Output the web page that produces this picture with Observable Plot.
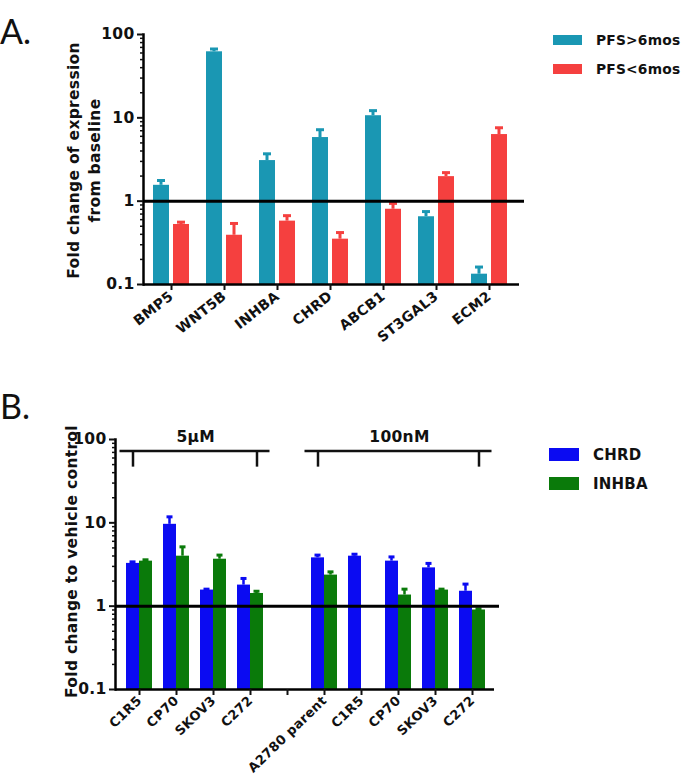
<!DOCTYPE html>
<html>
<head>
<meta charset="utf-8">
<script src="https://cdn.jsdelivr.net/npm/d3@7"></script>
<script src="https://cdn.jsdelivr.net/npm/@observablehq/plot@0.6"></script>
<style>
  body { margin: 0; background: #fff; }
  #wrap { position: relative; width: 685px; height: 775px; overflow: hidden; font-family: "DejaVu Sans", "Liberation Sans", Arial, sans-serif; color: #111; }
  .panel { position: absolute; left: 0; }
  .plabel { position: absolute; font-family: Lato, "Open Sans", sans-serif; font-size: 34px; line-height: 34px; color: #111; }
  .lrow { position: absolute; display: flex; align-items: center; white-space: nowrap; font-weight: bold; letter-spacing: 0.2px; }
  .sw { display: inline-block; }
</style>
</head>
<body>
<div id="wrap"></div>
<script>
// ---------- Panel A data ----------
const genesA = ["BMP5", "WNT5B", "INHBA", "CHRD", "ABCB1", "ST3GAL3", "ECM2"];
const pfsHigh = [1.55, 62, 3.07, 5.8, 10.6, 0.65, 0.133];      // PFS>6mos mean
const pfsHighErr = [1.77, 67, 3.7, 7.2, 12.2, 0.75, 0.162];    // PFS>6mos upper error
const pfsLow = [0.525, 0.39, 0.576, 0.35, 0.8, 1.97, 6.3];     // PFS<6mos mean
const pfsLowErr = [0.56, 0.54, 0.67, 0.42, 0.94, 2.2, 7.6];    // PFS<6mos upper error
const seriesA = ["PFS>6mos", "PFS<6mos"];

// ---------- Panel B data ----------
const cellB = ["C1R5", "CP70", "SKOV3", "C272", "", "A2780 parent", "C1R5", "CP70", "SKOV3", "C272"];
const chrdB = [3.26, 9.6, 1.56, 1.79, null, 3.8, 3.98, 3.47, 2.88, 1.51];
const chrdErrB = [3.4, 11.8, 1.6, 2.15, null, 4.1, 4.2, 3.9, 3.26, 1.84];
const inhbaB = [3.47, 3.98, 3.66, 1.42, null, 2.36, null, 1.36, 1.56, 0.9];
const inhbaErrB = [3.6, 5.15, 4.1, 1.51, null, 2.58, null, 1.6, 1.6, 0.93];
const seriesB = ["CHRD", "INHBA"];
const bracketLabels = ["5µM", "100nM"];
const bracketFrom = [0, 5];
const bracketTo = [3, 9];

// ---------- shared ----------
const yMajor = [0.1, 1, 10, 100];
const yMajorLabels = ["0.1", "1", "10", "100"];
const yMinor = [0.2, 0.3, 0.4, 0.5, 0.6, 0.7, 0.8, 0.9, 2, 3, 4, 5, 6, 7, 8, 9, 20, 30, 40, 50, 60, 70, 80, 90];

const TEAL = "#1a97b3", RED = "#f5403f", BLUE = "#0b0bf2", GREEN = "#0a7a0a";
const FONT = "'DejaVu Sans', 'Liberation Sans', Arial, sans-serif";

const rowsA = genesA.map((g, i) => ({gene: g, high: pfsHigh[i], highErr: pfsHighErr[i], low: pfsLow[i], lowErr: pfsLowErr[i]}));
const idxB = cellB.map((_, i) => i);
const rowsB = idxB.map(i => ({k: i, chrd: chrdB[i], chrdErr: chrdErrB[i], inhba: inhbaB[i], inhbaErr: inhbaErrB[i]}));
const brackets = bracketLabels.map((l, i) => ({label: l, from: bracketFrom[i], to: bracketTo[i]}));

function yAxes() {
  return [
    Plot.axisY({ticks: yMinor, tickSize: 3, strokeWidth: 1.5, tickFormat: () => "", label: null}),
    Plot.axisY({ticks: yMajor, tickSize: 6, strokeWidth: 2, tickPadding: 3, fontSize: 15.5, fontWeight: "bold",
      tickFormat: d => yMajorLabels[yMajor.indexOf(d)], label: null})
  ];
}

// ---------- Panel A chart ----------
const bwA = 36;
const chartA = Plot.plot({
  width: 685, height: 370,
  marginLeft: 143, marginRight: 166, marginTop: 34, marginBottom: 86,
  style: {fontFamily: FONT, letterSpacing: "0.3px", color: "#111", background: "transparent"},
  x: {domain: genesA, paddingInner: 0.326, paddingOuter: 0.184, align: 0.46, label: null},
  y: {type: "log", domain: [0.1, 100], label: null},
  marks: [
    Plot.barY(rowsA, {x: "gene", y1: 0.1, y2: "high", fill: TEAL, insetRight: bwA - 16}),
    Plot.barY(rowsA, {x: "gene", y1: 0.1, y2: "low", fill: RED, insetLeft: bwA - 16}),
    Plot.barY(rowsA, {x: "gene", y1: "high", y2: "highErr", fill: TEAL, insetLeft: 6.5, insetRight: bwA - 9.5}),
    Plot.tickY(rowsA, {x: "gene", y: "highErr", stroke: TEAL, strokeWidth: 3, insetLeft: 4, insetRight: bwA - 12}),
    Plot.barY(rowsA, {x: "gene", y1: "low", y2: "lowErr", fill: RED, insetLeft: bwA - 9.5, insetRight: 6.5}),
    Plot.tickY(rowsA, {x: "gene", y: "lowErr", stroke: RED, strokeWidth: 3, insetLeft: bwA - 12, insetRight: 4}),
    Plot.ruleY([1], {stroke: "#000", strokeWidth: 3, insetRight: -5}),
    Plot.ruleY([0.1], {stroke: "#000", strokeWidth: 2.5}),
    Plot.frame({anchor: "left", stroke: "#000", strokeWidth: 2.5}),
    ...yAxes(),
    Plot.axisX({tickSize: 6, strokeWidth: 2, tickRotate: -38, tickPadding: 4, fontSize: 14, fontWeight: "bold", label: null}),
    Plot.text(["Fold change of expression\nfrom baseline"], {frameAnchor: "left", rotate: -90, dx: -60.5, dy: 1,
      textAnchor: "middle", fontSize: 15.5, fontWeight: "bold", lineHeight: 1.35, lineAnchor: "middle"})
  ]
});

// ---------- Panel B chart ----------
const bwB = 26;
const stepB = 37.5;
const chartB = Plot.plot({
  width: 685, height: 395,
  marginLeft: 115, marginRight: 191, marginTop: 59, marginBottom: 86,
  style: {fontFamily: FONT, letterSpacing: "0.3px", color: "#111", background: "transparent"},
  x: {domain: idxB, paddingInner: 0.307, paddingOuter: 0.207, align: 0.56, label: null},
  y: {type: "log", domain: [0.1, 100], label: null},
  marks: [
    Plot.barY(rowsB.filter(d => d.chrd != null), {x: "k", y1: 0.1, y2: "chrd", fill: BLUE, insetRight: bwB / 2}),
    Plot.barY(rowsB.filter(d => d.inhba != null), {x: "k", y1: 0.1, y2: "inhba", fill: GREEN, insetLeft: bwB / 2}),
    Plot.barY(rowsB.filter(d => d.chrd != null), {x: "k", y1: "chrd", y2: "chrdErr", fill: BLUE, insetLeft: 5.25, insetRight: bwB - 7.75}),
    Plot.tickY(rowsB.filter(d => d.chrd != null), {x: "k", y: "chrdErr", stroke: BLUE, strokeWidth: 3, insetLeft: 3.5, insetRight: bwB - 9.5}),
    Plot.barY(rowsB.filter(d => d.inhba != null), {x: "k", y1: "inhba", y2: "inhbaErr", fill: GREEN, insetLeft: bwB - 7.75, insetRight: 5.25}),
    Plot.tickY(rowsB.filter(d => d.inhba != null), {x: "k", y: "inhbaErr", stroke: GREEN, strokeWidth: 3, insetLeft: bwB - 9.5, insetRight: 3.5}),
    Plot.ruleY([1], {stroke: "#000", strokeWidth: 3, insetRight: -5}),
    Plot.ruleY([0.1], {stroke: "#000", strokeWidth: 2.5}),
    Plot.frame({anchor: "left", stroke: "#000", strokeWidth: 2.5}),
    // treatment brackets
    Plot.ruleY(brackets, {x1: "from", x2: "to", y: () => 72.6, stroke: "#111", strokeWidth: 2.5, insetLeft: -6.5, insetRight: -6.5}),
    Plot.ruleX(brackets, {x: "from", y1: 46.6, y2: 72.6, stroke: "#111", strokeWidth: 2.5, dx: -6.5}),
    Plot.ruleX(brackets, {x: "to", y1: 46.6, y2: 72.6, stroke: "#111", strokeWidth: 2.5, dx: 6.5}),
    ...brackets.map(b => Plot.text([b], {x: "from", y: () => 106, text: "label", dx: (b.to - b.from) * stepB / 2,
      fontSize: 15.5, fontWeight: "bold", lineAnchor: "middle"})),
    ...yAxes(),
    Plot.axisX({tickSize: 6, strokeWidth: 2, tickRotate: -44, tickPadding: 3, fontSize: 13, fontWeight: "bold",
      tickFormat: i => cellB[i], label: null}),
    Plot.text(["Fold change to vehicle control"], {frameAnchor: "left", rotate: -90, dx: -43, dy: -3,
      textAnchor: "middle", fontSize: 15.5, fontWeight: "bold", lineAnchor: "middle"})
  ]
});

// ---------- assemble page ----------
const wrap = document.getElementById("wrap");
function place(el, top) { const d = document.createElement("div"); d.className = "panel"; d.style.top = top + "px"; d.appendChild(el); wrap.appendChild(d); }
place(chartA, 0);
place(chartB, 380);

function label(txt, left, top) { const d = document.createElement("div"); d.className = "plabel"; d.textContent = txt; d.style.left = left + "px"; d.style.top = top + "px"; wrap.appendChild(d); }
label("A.", 0, 14);
label("B.", 0, 389);

function legendRow(color, text, left, top, sw, sh, gap, fs) {
  const r = document.createElement("div"); r.className = "lrow";
  r.style.left = left + "px"; r.style.top = top + "px"; r.style.height = sh + "px"; r.style.fontSize = fs + "px";
  const s = document.createElement("span"); s.className = "sw";
  s.style.width = sw + "px"; s.style.height = sh + "px"; s.style.background = color; s.style.marginRight = gap + "px";
  const t = document.createElement("span"); t.textContent = text;
  r.appendChild(s); r.appendChild(t); wrap.appendChild(r);
}
legendRow(TEAL, seriesA[0], 553, 35, 29, 10, 14, 13.8);
legendRow(RED, seriesA[1], 553, 64, 29, 10, 14, 13.8);
legendRow(BLUE, seriesB[0], 549, 448, 30, 13, 14, 15);
legendRow(GREEN, seriesB[1], 549, 477, 30, 13, 14, 15);
</script>
</body>
</html>
